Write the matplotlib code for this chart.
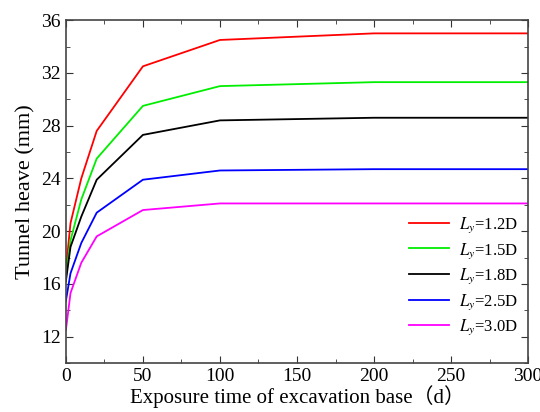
import matplotlib
matplotlib.use('Agg')
import matplotlib.pyplot as plt
from matplotlib.ticker import MultipleLocator

plt.rcParams['font.family'] = ['Liberation Serif', 'Noto Sans CJK SC']
plt.rcParams['mathtext.fontset'] = 'stix'

days = [0, 3, 10, 20, 50, 100, 200, 300]
heave_12 = [17.1, 20.6, 24.0, 27.6, 32.5, 34.5, 35.0, 35.0]
heave_15 = [16.5, 19.3, 22.4, 25.5, 29.5, 31.0, 31.3, 31.3]
heave_18 = [16.2, 18.8, 21.1, 23.9, 27.3, 28.4, 28.6, 28.6]
heave_25 = [14.7, 16.8, 19.1, 21.4, 23.9, 24.6, 24.7, 24.7]
heave_30 = [12.5, 15.3, 17.6, 19.6, 21.6, 22.1, 22.1, 22.1]

series = [
    (heave_12, '#ff0000', '$L_y$=1.2D'),
    (heave_15, '#00ee00', '$L_y$=1.5D'),
    (heave_18, '#000000', '$L_y$=1.8D'),
    (heave_25, '#0000ff', '$L_y$=2.5D'),
    (heave_30, '#ff00ff', '$L_y$=3.0D'),
]

fig = plt.figure(figsize=(5.4, 4.12), dpi=100)
ax = fig.add_axes([0.122, 0.119, 0.856, 0.832])

for vals, color, label in series:
    ax.plot(days, vals, color=color, lw=1.3, label=label)

ax.set_xlim(0, 300)
ax.set_ylim(10, 36)
ax.xaxis.set_major_locator(MultipleLocator(50))
ax.xaxis.set_minor_locator(MultipleLocator(25))
ax.yaxis.set_major_locator(MultipleLocator(4))
ax.yaxis.set_minor_locator(MultipleLocator(2))
ax.set_yticks([12, 16, 20, 24, 28, 32, 36])
ax.tick_params(which='both', direction='in', top=True, right=True,
               labelsize=14, color='#333333')
ax.tick_params(which='major', length=5)
ax.tick_params(which='minor', length=3)
for sp in ax.spines.values():
    sp.set_color('#444444')
    sp.set_linewidth(1.2)

ax.set_xlabel('Exposure time of excavation base（d）', fontsize=15, labelpad=0)
ax.set_ylabel('Tunnel heave (mm)', fontsize=16, labelpad=4)

ax.legend(loc='lower right', frameon=False, fontsize=12, handlelength=2.4,
          handletextpad=0.6, labelspacing=0.36, borderpad=0.2,
          borderaxespad=0, bbox_to_anchor=(0.985, 0.065))

fig.savefig('out.png', dpi=100)
